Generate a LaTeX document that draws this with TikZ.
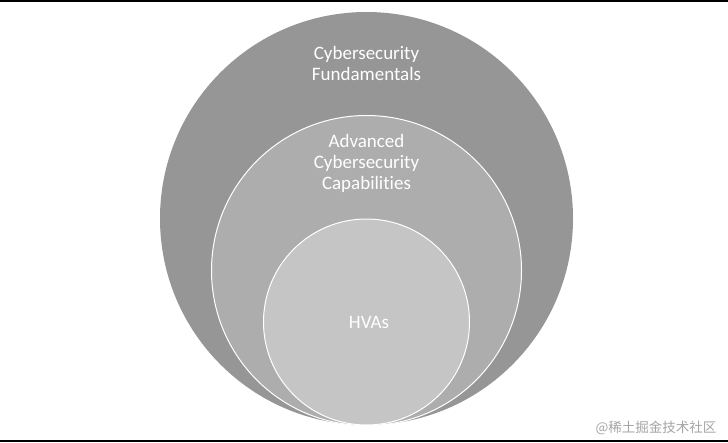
\documentclass[tikz,border=0pt]{standalone}
\usepackage{fontspec}
\setmainfont{Carlito}[Ligatures=NoCommon]
\newfontfamily\cjk{Noto Sans CJK SC}
\definecolor{outerc}{RGB}{150,150,150}
\definecolor{midc}{RGB}{173,173,173}
\definecolor{innerc}{RGB}{197,197,197}
\definecolor{wmark}{RGB}{165,165,165}
\begin{document}
\begin{tikzpicture}[x=1pt,y=-1pt,
  ring/.style={circle,inner sep=0pt,draw=white,line width=1pt},
  lbl/.style={text=white,font=\fontsize{19}{21}\selectfont,align=center}]
\useasboundingbox (0,0) rectangle (728,442);
\fill[white] (0,0) rectangle (728,442);
\fill[black] (0,0) rectangle (728,1.5);
\fill[black] (0,440) rectangle (728,442);
\node[ring,fill=outerc,draw=none,minimum size=413pt] (outer) at (366.5,218.5) {};
\node[ring,fill=midc,minimum size=310pt] (mid) at (366.5,270.5) {};
\node[ring,fill=innerc,minimum size=206pt] (inner) at (366.5,322) {};
\node[lbl] (t1) at (366.5,63) {Cybersecurity\\Fundamentals};
\node[lbl] (t2) at (366.5,163) {Advanced\\Cybersecurity\\Capabilities};
\node[lbl] (t3) at (369,322) {HVAs};
\node[text=wmark,font=\cjk\fontsize{13.5}{15}\selectfont,anchor=east] (wm) at (720,428) {@稀土掘金技术社区};
\end{tikzpicture}
\end{document}
